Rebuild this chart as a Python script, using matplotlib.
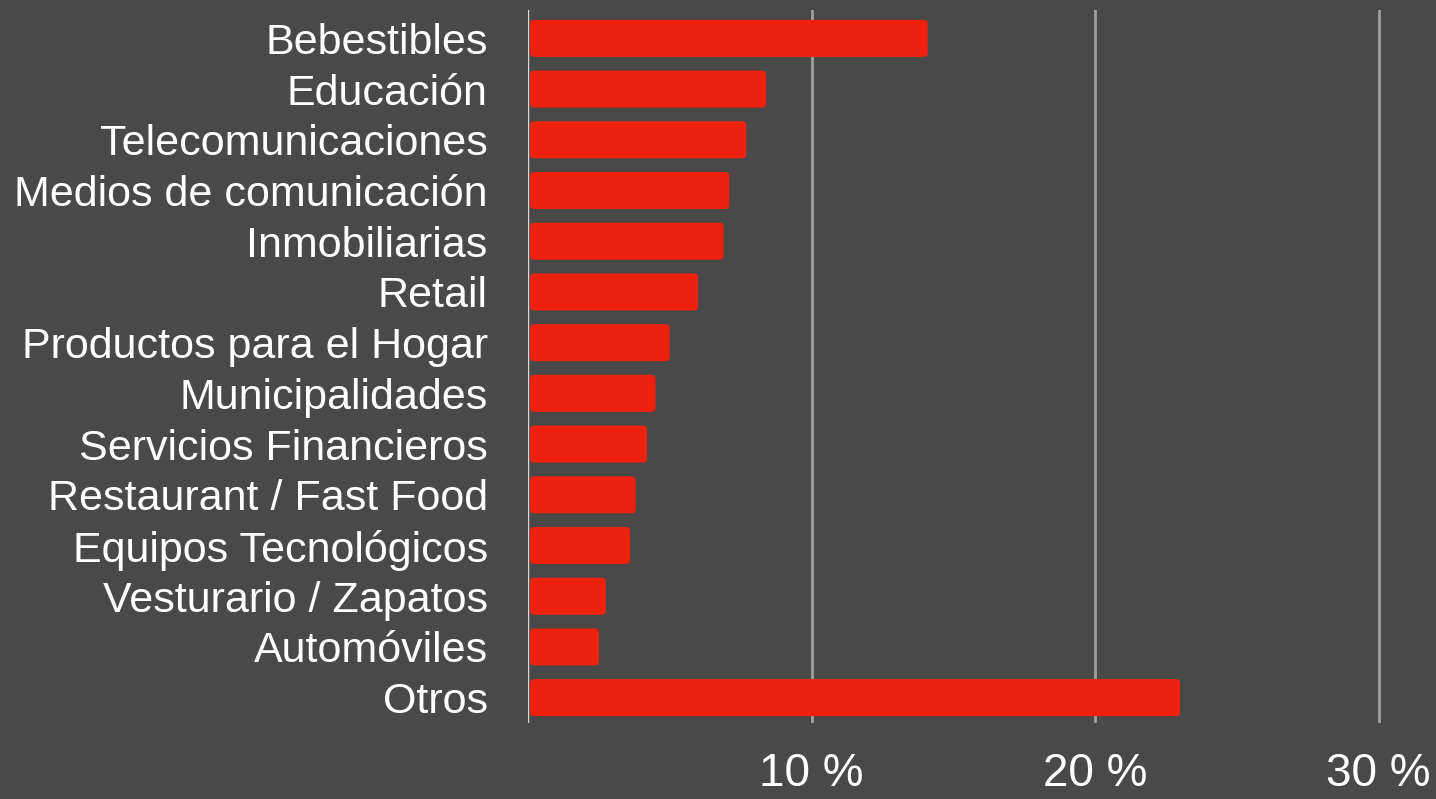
import matplotlib.pyplot as plt
from matplotlib.patches import FancyBboxPatch

# Data (percent)
categorias = ['Bebestibles', 'Educación', 'Telecomunicaciones', 'Medios de comunicación',
              'Inmobiliarias', 'Retail', 'Productos para el Hogar', 'Municipalidades',
              'Servicios Financieros', 'Restaurant / Fast Food', 'Equipos Tecnológicos',
              'Vesturario / Zapatos', 'Automóviles', 'Otros']
porcentajes = [14.1, 8.4, 7.7, 7.1, 6.9, 6.0, 5.0, 4.5, 4.2, 3.8, 3.6, 2.75, 2.5, 23.0]
ticks = [10, 20, 30]
tick_labels = ['10 %', '20 %', '30 %']

bg = '#494949'
red = '#ee210e'

plt.rcParams['font.family'] = ['Liberation Sans', 'DejaVu Sans']

fig = plt.figure(figsize=(14.36, 7.99), dpi=100, facecolor=bg)
ax = fig.add_axes([528 / 1436, 76 / 799, 908 / 1436, 713 / 799], facecolor=bg)

y = list(range(len(categorias)))
bars = ax.barh(y, [p - 0.07 for p in porcentajes], left=0.07, height=0.73, color=red)

# Replace the plain rectangles with rounded ones
for b in bars:
    b.set_visible(False)
    patch = FancyBboxPatch((b.get_x(), b.get_y()), b.get_width(), b.get_height(),
                           boxstyle='round,pad=0,rounding_size=0.14',
                           mutation_aspect=0.56, facecolor=red, edgecolor='none', zorder=3)
    ax.add_patch(patch)

ax.set_xlim(0, 908 / 28.35)
ax.set_ylim(13.5, -0.56)

for t in ticks:
    ax.axvline(t, color='#a0a0a0', linewidth=2, zorder=1)
ax.axvline(0, color='#d8d8d8', linewidth=1, zorder=2)

ax.set_xticks(ticks)
ax.set_xticklabels(tick_labels, fontsize=33, color='white')
ax.set_yticks(y)
ax.set_yticklabels(categorias, fontsize=31, color='white')
ax.tick_params(axis='x', length=0, pad=21)
ax.tick_params(axis='y', length=0, pad=29)

for s in ax.spines.values():
    s.set_visible(False)

fig.savefig('out.png', dpi=100, facecolor=bg)
